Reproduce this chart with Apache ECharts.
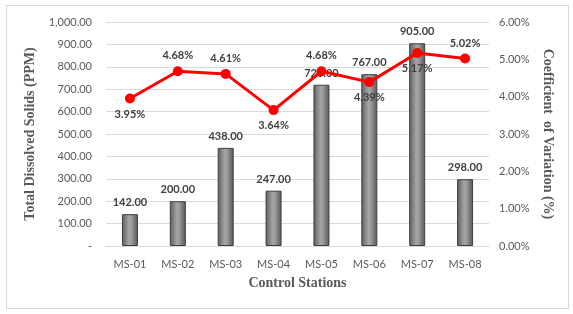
<!DOCTYPE html>
<html>
<head>
<meta charset="utf-8">
<script src="https://cdn.jsdelivr.net/npm/echarts@6/dist/echarts.min.js"></script>
<style>
  html, body { margin: 0; padding: 0; background: #fff; }
  #frame {
    position: absolute; left: 6px; top: 5px;
    width: 561px; height: 302px;
    border: 1px solid #d9d9d9;
  }
  #chart { position: absolute; left: 0; top: 0; width: 573px; height: 314px; }
</style>
</head>
<body>
<div id="frame"></div>
<div id="chart"></div>
<script>
// 数据
const stations = ['MS-01', 'MS-02', 'MS-03', 'MS-04', 'MS-05', 'MS-06', 'MS-07', 'MS-08'];
const tdsValues = [142, 200, 438, 247, 720, 767, 905, 298];
const cvValues = [3.95, 4.68, 4.61, 3.64, 4.68, 4.39, 5.17, 5.02];
// 折线标签位置（上/下）
const cvLabelPos = ['bottom', 'top', 'top', 'bottom', 'top', 'bottom', 'bottom', 'top'];

const labelFont = 'Lato, "Open Sans", sans-serif';
const nameFont = '"Liberation Serif", "DejaVu Serif", serif';

const chart = echarts.init(document.getElementById('chart'), null, { renderer: 'canvas' });

const barGradient = new echarts.graphic.LinearGradient(0, 0, 1, 0, [
  { offset: 0, color: '#5c5c5c' },
  { offset: 0.45, color: '#a6a6a6' },
  { offset: 0.6, color: '#9a9a9a' },
  { offset: 1, color: '#555555' }
]);

const nameStyle = { fontFamily: nameFont, fontWeight: 'bold', fontSize: 14, color: '#595959' };

const option = {
  animation: false,
  grid: { left: 106, right: 84, top: 22, bottom: 68 },
  xAxis: {
    type: 'category',
    data: stations,
    name: 'Control Stations',
    nameLocation: 'middle',
    nameGap: 30,
    nameTextStyle: nameStyle,
    axisLine: { lineStyle: { color: '#d9d9d9' } },
    axisTick: { show: false },
    axisLabel: { color: '#595959', fontFamily: labelFont, fontSize: 11, margin: 13 }
  },
  yAxis: [
    {
      type: 'value',
      min: 0, max: 1000, interval: 100,
      name: 'Total Dissolved Solids (PPM)',
      nameLocation: 'middle',
      nameGap: 64,
      nameTextStyle: nameStyle,
      axisLine: { show: false },
      axisTick: { show: false },
      splitLine: { lineStyle: { color: '#d9d9d9' } },
      axisLabel: {
        color: '#595959', fontFamily: labelFont, fontSize: 11, margin: 14,
        formatter: v => v === 0 ? '-' : v.toLocaleString('en-US', { minimumFractionDigits: 2, maximumFractionDigits: 2 })
      }
    },
    {
      type: 'value',
      min: 0, max: 6, interval: 1,
      name: 'Coefficient  of Variation (%)',
      nameLocation: 'middle',
      nameGap: 36,
      nameRotate: -90,
      nameTextStyle: nameStyle,
      axisLine: { show: false },
      axisTick: { show: false },
      splitLine: { show: false },
      axisLabel: {
        color: '#595959', fontFamily: labelFont, fontSize: 11, margin: 10,
        formatter: v => v.toFixed(2) + '%'
      }
    }
  ],
  series: [
    {
      name: 'TDS',
      type: 'bar',
      data: tdsValues,
      barWidth: 16,
      itemStyle: { color: barGradient, borderColor: '#3f3f3f', borderWidth: 1 },
      label: {
        show: true, position: 'top', distance: 6,
        color: '#404040', fontFamily: labelFont, fontWeight: 'bold', fontSize: 11,
        formatter: p => p.value.toFixed(2)
      }
    },
    {
      name: 'CV',
      type: 'line',
      yAxisIndex: 1,
      data: cvValues.map((v, i) => ({
        value: v,
        label: { position: cvLabelPos[i] }
      })),
      symbol: 'circle',
      symbolSize: 10,
      lineStyle: { color: '#ff0000', width: 3 },
      itemStyle: { color: '#ff0000' },
      label: {
        show: true, distance: 5,
        color: '#404040', fontFamily: labelFont, fontWeight: 'bold', fontSize: 11,
        formatter: p => p.value.toFixed(2) + '%'
      },
      z: 3
    }
  ]
};

chart.setOption(option);
</script>
</body>
</html>
